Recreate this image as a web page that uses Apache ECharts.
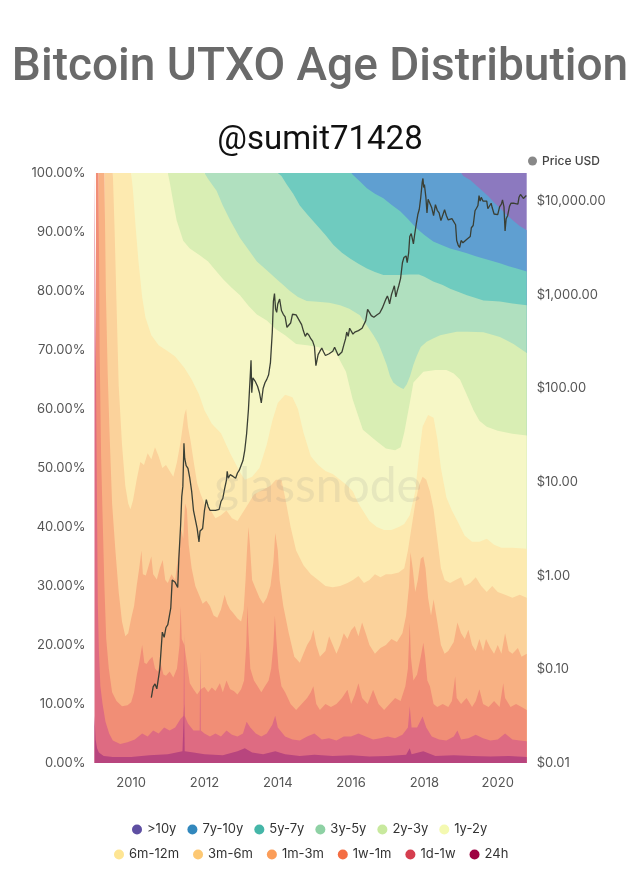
<!DOCTYPE html>
<html>
<head>
<meta charset="utf-8">
<title>Bitcoin UTXO Age Distribution</title>
<script src="https://cdn.jsdelivr.net/npm/echarts@6/dist/echarts.min.js"></script>
<style>
    html, body { margin: 0; padding: 0; background: #fff; }
    #chart { width: 640px; height: 889px; }
</style>
</head>
<body>
<div id="chart"></div>
<script>
// age bands, youngest (bottom) to oldest (top)
const bandNames = ['24h', '1d-1w', '1w-1m', '1m-3m', '3m-6m', '6m-12m', '1y-2y', '2y-3y', '3y-5y', '5y-7y', '7y-10y', '>10y'];
const legendRow1 = ['>10y', '7y-10y', '5y-7y', '3y-5y', '2y-3y', '1y-2y'];
const legendRow2 = ['6m-12m', '3m-6m', '1m-3m', '1w-1m', '1d-1w', '24h'];
const dotColors = ['#9e0142', '#d53e4f', '#f46d43', '#fb9d59', '#fdc873', '#fee593', '#f4f9b1', '#c8e99e', '#8ed1a4', '#45b6a8', '#3288bd', '#5e4fa2'];
const fillColors = ['#b8457e', '#de6b82', '#f18e76', '#f8b183', '#fbd29b', '#fdeab0', '#f6f7c6', '#d9eeb4', '#b0e0bf', '#6fcbbf', '#5f9fd1', '#8c79bf'];

// upper edge of each band, cumulative % of supply: [year, percent]
const top24h = [[2009.0, 8], [2009.03, 4], [2009.07, 2.5], [2009.12, 1.8], [2009.25, 1.2], [2009.5, 1], [2010.0, 1], [2010.5, 1.3], [2011.0, 1.5], [2011.4, 2], [2011.445, 10], [2011.46, 2], [2011.7, 1.8], [2012.0, 1.5], [2012.5, 1.3], [2012.9, 2], [2013.1, 2.5], [2013.3, 1.8], [2013.6, 1.5], [2013.93, 2], [2014.2, 1.5], [2014.6, 1.2], [2015.0, 1.4], [2015.5, 1.2], [2016.0, 1.3], [2016.5, 1.1], [2017.0, 1.2], [2017.5, 1.4], [2017.6, 2.5], [2017.65, 1.5], [2017.97, 2], [2018.3, 1.2], [2018.8, 1.3], [2019.3, 1.2], [2019.8, 1.1], [2020.3, 1.2], [2020.79, 1]];
const top1d1w = [[2009.0, 100], [2009.04, 100], [2009.06, 50], [2009.09, 27], [2009.12, 19], [2009.16, 13], [2009.22, 10], [2009.3, 7], [2009.4, 5], [2009.5, 3.8], [2009.7, 3.2], [2009.9, 3.5], [2010.1, 4], [2010.3, 5], [2010.45, 4.5], [2010.6, 5.5], [2010.75, 5], [2010.9, 6], [2011.05, 5.5], [2011.2, 6], [2011.35, 7.5], [2011.43, 8], [2011.445, 22], [2011.46, 8], [2011.55, 6.7], [2011.7, 5.5], [2011.87, 5.5], [2011.885, 19], [2011.9, 5.5], [2012.0, 5], [2012.15, 4.5], [2012.3, 5], [2012.45, 4.5], [2012.6, 5.5], [2012.75, 4.8], [2012.9, 4.5], [2013.05, 5], [2013.15, 7], [2013.25, 6], [2013.4, 5], [2013.55, 4.5], [2013.7, 5], [2013.85, 6.5], [2013.93, 8], [2014.0, 6], [2014.2, 4.5], [2014.4, 4], [2014.6, 3.8], [2014.8, 4.5], [2015.0, 5], [2015.2, 4], [2015.4, 4.2], [2015.6, 3.8], [2015.8, 4.5], [2016.0, 4.5], [2016.2, 5], [2016.4, 4.5], [2016.6, 4], [2016.8, 4.2], [2017.0, 4.5], [2017.2, 4.2], [2017.4, 4.8], [2017.55, 6], [2017.6, 9.6], [2017.65, 6], [2017.8, 6], [2017.95, 7.9], [2018.05, 6], [2018.2, 4.5], [2018.4, 4], [2018.6, 3.8], [2018.8, 4.5], [2018.9, 5.5], [2019.0, 4], [2019.2, 4.2], [2019.4, 4.8], [2019.6, 4.2], [2019.8, 3.8], [2020.0, 4], [2020.2, 5], [2020.4, 4], [2020.6, 3.8], [2020.79, 3.7]];
const top1w1m = [[2009.04, 100], [2009.11, 100], [2009.14, 70], [2009.18, 52], [2009.22, 42], [2009.27, 30], [2009.32, 21], [2009.39, 16], [2009.48, 12], [2009.6, 10.5], [2009.75, 9.6], [2009.9, 9.8], [2010.0, 10.3], [2010.08, 12], [2010.15, 14.8], [2010.22, 17], [2010.3, 20], [2010.36, 17], [2010.42, 16.8], [2010.5, 17.5], [2010.58, 18], [2010.65, 16], [2010.72, 15.5], [2010.8, 17], [2010.88, 15], [2010.95, 14.8], [2011.05, 15.5], [2011.15, 14.5], [2011.25, 16], [2011.32, 20], [2011.35, 26.6], [2011.38, 21], [2011.45, 20], [2011.52, 17], [2011.6, 13.5], [2011.7, 12.5], [2011.8, 11.6], [2011.9, 12.5], [2012.0, 12.9], [2012.1, 12], [2012.2, 12.8], [2012.3, 12.2], [2012.42, 13.5], [2012.5, 12], [2012.6, 14], [2012.7, 12.5], [2012.8, 12.2], [2012.9, 11.6], [2013.0, 12.5], [2013.08, 14], [2013.14, 20], [2013.17, 26.6], [2013.2, 22], [2013.25, 16], [2013.35, 14], [2013.45, 13], [2013.55, 12], [2013.65, 13], [2013.75, 14], [2013.82, 16], [2013.88, 20], [2013.92, 25], [2013.96, 21], [2014.02, 16], [2014.1, 13], [2014.2, 12], [2014.35, 10], [2014.5, 9], [2014.65, 10], [2014.8, 11], [2014.9, 12], [2014.97, 13], [2015.05, 10], [2015.15, 9], [2015.3, 10], [2015.45, 9.5], [2015.6, 10], [2015.75, 11], [2015.9, 12.4], [2016.0, 10], [2016.1, 11.5], [2016.2, 13.5], [2016.3, 11], [2016.45, 10], [2016.6, 12.4], [2016.75, 10], [2016.9, 9], [2017.05, 10], [2017.2, 11], [2017.35, 10.5], [2017.48, 13], [2017.55, 16], [2017.6, 23.8], [2017.63, 18], [2017.7, 14], [2017.8, 15], [2017.9, 18], [2017.97, 20.4], [2018.02, 18], [2018.08, 14], [2018.15, 13], [2018.25, 10], [2018.35, 9.5], [2018.5, 10], [2018.65, 9.5], [2018.75, 10.5], [2018.84, 14.7], [2018.88, 11], [2019.0, 10], [2019.15, 11], [2019.3, 9.5], [2019.4, 10.5], [2019.5, 12.5], [2019.6, 10], [2019.75, 9.5], [2019.9, 10.5], [2020.05, 9.5], [2020.15, 13.5], [2020.2, 11], [2020.35, 9.5], [2020.5, 10], [2020.65, 9.5], [2020.79, 9]];
const top1m3m = [[2009.11, 100], [2009.27, 100], [2009.31, 80], [2009.36, 66], [2009.41, 56], [2009.48, 44], [2009.57, 36], [2009.66, 29], [2009.75, 24], [2009.84, 21.5], [2009.92, 22], [2010.0, 24.5], [2010.08, 26.6], [2010.15, 30], [2010.22, 33], [2010.28, 36], [2010.32, 32], [2010.4, 31.8], [2010.48, 33.5], [2010.55, 35], [2010.6, 32], [2010.7, 31.1], [2010.78, 33], [2010.86, 34.4], [2010.93, 31], [2011.0, 30.5], [2011.1, 32], [2011.2, 31], [2011.3, 36], [2011.37, 39.6], [2011.42, 38], [2011.47, 44], [2011.52, 43], [2011.57, 37], [2011.65, 33], [2011.75, 30], [2011.85, 28.5], [2011.95, 27], [2012.05, 27.5], [2012.15, 26.6], [2012.25, 25], [2012.35, 24.6], [2012.45, 26], [2012.55, 28.5], [2012.62, 27], [2012.7, 26], [2012.8, 25.3], [2012.9, 24.5], [2013.0, 24], [2013.07, 26], [2013.12, 31], [2013.16, 36], [2013.2, 40], [2013.24, 37], [2013.3, 31], [2013.38, 29.8], [2013.5, 28], [2013.6, 27], [2013.7, 28], [2013.8, 30], [2013.88, 34], [2013.93, 39], [2014.0, 36], [2014.05, 31], [2014.15, 26.6], [2014.3, 22], [2014.45, 18], [2014.6, 17], [2014.7, 18.5], [2014.8, 20], [2014.9, 21], [2014.97, 22.6], [2015.05, 20], [2015.15, 18], [2015.3, 19], [2015.4, 21.5], [2015.5, 20], [2015.6, 18.5], [2015.7, 20], [2015.8, 22], [2015.9, 21], [2016.0, 22.5], [2016.1, 23.2], [2016.2, 21.5], [2016.3, 23.8], [2016.4, 22], [2016.5, 20], [2016.65, 18.5], [2016.8, 19.5], [2016.95, 20], [2017.1, 21], [2017.25, 20.5], [2017.4, 22], [2017.5, 25], [2017.58, 30], [2017.62, 35.7], [2017.68, 33], [2017.75, 29], [2017.82, 31], [2017.9, 34.6], [2017.97, 35], [2018.03, 33], [2018.1, 28], [2018.18, 25], [2018.25, 27.7], [2018.35, 24], [2018.45, 20], [2018.55, 18.5], [2018.65, 19], [2018.8, 20.5], [2018.9, 23.8], [2019.0, 22], [2019.1, 21], [2019.2, 22.6], [2019.3, 20], [2019.4, 19], [2019.5, 21], [2019.6, 19], [2019.68, 21], [2019.8, 19.5], [2019.9, 18.5], [2020.0, 20], [2020.1, 18.5], [2020.2, 22], [2020.3, 19], [2020.4, 18.5], [2020.55, 19.5], [2020.65, 18], [2020.79, 18.5]];
const top3m6m = [[2009.27, 100], [2009.5, 100], [2009.55, 90], [2009.6, 78], [2009.66, 64], [2009.75, 54], [2009.84, 47], [2009.92, 44], [2009.98, 43], [2010.05, 44.5], [2010.15, 48], [2010.25, 51], [2010.35, 50.5], [2010.45, 52.5], [2010.55, 51.5], [2010.65, 53.5], [2010.75, 52], [2010.85, 50], [2010.95, 50.5], [2011.05, 49.5], [2011.15, 48.5], [2011.25, 51], [2011.35, 54.5], [2011.45, 59], [2011.5, 60], [2011.55, 57], [2011.62, 54.6], [2011.72, 50.5], [2011.8, 47.4], [2011.9, 45.5], [2012.0, 44], [2012.15, 43], [2012.3, 41.5], [2012.45, 42], [2012.6, 42.8], [2012.75, 41.5], [2012.9, 41], [2013.05, 42.5], [2013.2, 44], [2013.35, 45.5], [2013.5, 46], [2013.65, 46.5], [2013.8, 47], [2013.95, 48], [2014.1, 48], [2014.2, 45], [2014.35, 40], [2014.5, 36], [2014.7, 33.5], [2014.9, 32], [2015.1, 31], [2015.3, 30], [2015.5, 29.8], [2015.7, 30], [2015.9, 30.5], [2016.05, 31], [2016.2, 31.7], [2016.35, 30.5], [2016.5, 31], [2016.65, 32], [2016.8, 31.5], [2016.95, 32], [2017.1, 32], [2017.3, 32.3], [2017.45, 33], [2017.55, 36], [2017.65, 40], [2017.75, 44], [2017.85, 47], [2017.95, 48.5], [2018.05, 48], [2018.15, 46], [2018.25, 43], [2018.35, 38], [2018.45, 33], [2018.55, 31], [2018.7, 30.5], [2018.85, 31], [2019.0, 31.5], [2019.1, 30], [2019.25, 30.5], [2019.4, 31.5], [2019.55, 30], [2019.7, 29], [2019.85, 30], [2020.0, 29], [2020.2, 28.5], [2020.4, 28], [2020.6, 28.5], [2020.79, 28]];
const top6m12m = [[2009.5, 100], [2010.0, 100], [2010.05, 97], [2010.12, 91], [2010.2, 85], [2010.3, 79], [2010.39, 75.5], [2010.55, 72.5], [2010.75, 70.8], [2011.0, 69.8], [2011.2, 68.9], [2011.45, 67], [2011.65, 65], [2011.85, 62.5], [2012.0, 59.8], [2012.2, 57.5], [2012.45, 55.9], [2012.7, 52.5], [2012.97, 49.3], [2013.1, 48], [2013.3, 48.5], [2013.5, 50], [2013.7, 54], [2013.85, 58], [2014.0, 61], [2014.2, 62.4], [2014.4, 62], [2014.55, 60], [2014.7, 56], [2014.9, 52], [2015.1, 50.5], [2015.3, 49.5], [2015.5, 49], [2015.7, 48], [2015.9, 47], [2016.05, 46], [2016.2, 44], [2016.35, 42.5], [2016.5, 41], [2016.7, 40], [2016.9, 39.5], [2017.1, 39.5], [2017.3, 40], [2017.45, 40.5], [2017.6, 42], [2017.75, 46], [2017.85, 52], [2017.95, 57], [2018.1, 59], [2018.25, 58.5], [2018.35, 55], [2018.45, 50], [2018.6, 45], [2018.75, 42.8], [2018.9, 41], [2019.1, 38.5], [2019.3, 37.5], [2019.5, 37.5], [2019.7, 38], [2019.9, 37], [2020.1, 36.5], [2020.4, 36.5], [2020.79, 36.3]];
const top1y2y = [[2010.0, 100], [2011.0, 100], [2011.05, 98.5], [2011.15, 95], [2011.24, 92], [2011.42, 88.5], [2011.6, 87.2], [2011.88, 86], [2012.1, 85], [2012.3, 83.5], [2012.51, 82], [2012.75, 80.5], [2012.97, 79.3], [2013.2, 77.5], [2013.43, 76], [2013.7, 75], [2013.95, 73.5], [2014.2, 72.5], [2014.5, 71], [2014.8, 70.8], [2015.1, 70.5], [2015.3, 70], [2015.59, 69.5], [2015.86, 66.3], [2016.04, 61.7], [2016.32, 56.5], [2016.68, 54.6], [2016.95, 53.3], [2017.2, 53], [2017.35, 53.5], [2017.45, 56], [2017.6, 61], [2017.7, 64.5], [2017.97, 66.3], [2018.3, 66.6], [2018.6, 66.6], [2018.8, 66], [2018.97, 65], [2019.15, 62.5], [2019.34, 59.8], [2019.5, 58], [2019.7, 57], [2020.0, 56.3], [2020.4, 55.8], [2020.79, 55.5]];
const top2y3y = [[2011.0, 100], [2012.0, 100], [2012.1, 99], [2012.33, 97], [2012.5, 94.5], [2012.7, 92], [2012.97, 89], [2013.2, 87], [2013.43, 85], [2013.7, 83.5], [2013.97, 82], [2014.15, 81], [2014.33, 80], [2014.55, 79], [2014.79, 78.3], [2015.0, 78.2], [2015.4, 78], [2015.7, 77.6], [2015.95, 77], [2016.24, 75.9], [2016.45, 74], [2016.61, 72.5], [2016.75, 71], [2016.88, 69], [2016.97, 67.5], [2017.06, 65.6], [2017.15, 64.5], [2017.25, 64], [2017.35, 63.6], [2017.43, 63.4], [2017.52, 64.2], [2017.61, 65.6], [2017.7, 67.5], [2017.79, 69], [2017.9, 70.5], [2018.06, 71.4], [2018.25, 72], [2018.43, 72.5], [2018.65, 72.8], [2018.88, 73.1], [2019.2, 73.1], [2019.61, 73], [2019.85, 72.6], [2020.06, 72.2], [2020.25, 71.6], [2020.43, 71], [2020.6, 70.3], [2020.79, 69.5]];
const top3y5y = [[2012.0, 100], [2014.0, 100], [2014.1, 99.5], [2014.25, 98], [2014.42, 96.5], [2014.6, 94.5], [2014.8, 93], [2015.06, 91.2], [2015.3, 89.5], [2015.52, 87.8], [2015.75, 86.5], [2015.97, 85.5], [2016.2, 84.6], [2016.43, 83.8], [2016.65, 83.2], [2016.88, 82.7], [2017.1, 82.7], [2017.34, 82.7], [2017.6, 82.8], [2017.85, 82.8], [2018.0, 82.4], [2018.24, 81.6], [2018.5, 81], [2018.7, 80.4], [2018.95, 79.8], [2019.16, 79.3], [2019.4, 78.8], [2019.61, 78.4], [2019.85, 78.3], [2020.06, 78.2], [2020.4, 77.9], [2020.79, 77.6]];
const top5y7y = [[2014.0, 100], [2016.0, 100], [2016.06, 99.6], [2016.25, 98.5], [2016.43, 97.4], [2016.65, 96.5], [2016.88, 95.7], [2017.1, 94.6], [2017.34, 93.5], [2017.55, 92.2], [2017.79, 90.6], [2018.0, 89.5], [2018.24, 88.4], [2018.5, 87.7], [2018.7, 87.2], [2018.95, 86.8], [2019.16, 86.4], [2019.4, 85.9], [2019.61, 85.5], [2019.85, 85.1], [2020.06, 84.7], [2020.3, 84.2], [2020.52, 83.8], [2020.79, 83.3]];
const top7y10y = [[2016.0, 100], [2019.0, 100], [2019.06, 99.5], [2019.25, 98.8], [2019.5, 97.4], [2019.75, 96], [2019.9, 95], [2020.1, 93.8], [2020.25, 92.9], [2020.45, 91.8], [2020.6, 91], [2020.79, 90.3]];
const top10y = [[2019.0, 100], [2020.79, 100]];

const bandTops = [top24h, top1d1w, top1w1m, top1m3m, top3m6m, top6m12m, top1y2y, top2y3y, top3y5y, top5y7y, top7y10y, top10y];

// BTC price in USD: [year, price]
const priceUsd = [[2010.55, 0.05], [2010.6, 0.065], [2010.65, 0.07], [2010.7, 0.062], [2010.78, 0.1], [2010.85, 0.25], [2010.9, 0.22], [2010.95, 0.28], [2011.0, 0.3], [2011.08, 0.45], [2011.12, 0.9], [2011.2, 0.85], [2011.27, 0.75], [2011.3, 1.5], [2011.35, 3.5], [2011.38, 7], [2011.41, 9], [2011.43, 18], [2011.44, 26], [2011.46, 18], [2011.5, 15], [2011.55, 14], [2011.6, 11], [2011.65, 8], [2011.7, 5], [2011.75, 4], [2011.8, 3.2], [2011.85, 2.3], [2011.88, 3], [2011.95, 3.2], [2012.0, 5], [2012.05, 6.5], [2012.1, 5.5], [2012.15, 5], [2012.2, 4.8], [2012.3, 5], [2012.4, 5.1], [2012.45, 6.2], [2012.5, 6.7], [2012.55, 8.5], [2012.6, 10.5], [2012.62, 13], [2012.65, 11], [2012.7, 12], [2012.78, 11.5], [2012.85, 11], [2012.9, 12.5], [2012.95, 13.4], [2013.0, 13.5], [2013.05, 17], [2013.1, 22], [2013.15, 33], [2013.2, 60], [2013.25, 140], [2013.27, 200], [2013.29, 90], [2013.32, 130], [2013.38, 120], [2013.45, 105], [2013.5, 90], [2013.55, 70], [2013.6, 100], [2013.65, 115], [2013.7, 125], [2013.75, 140], [2013.8, 190], [2013.85, 400], [2013.88, 850], [2013.91, 1030], [2013.94, 700], [2013.97, 650], [2014.0, 800], [2014.05, 900], [2014.1, 680], [2014.15, 620], [2014.2, 580], [2014.25, 450], [2014.3, 460], [2014.35, 500], [2014.4, 620], [2014.45, 640], [2014.5, 610], [2014.55, 590], [2014.6, 520], [2014.65, 480], [2014.7, 410], [2014.75, 360], [2014.8, 390], [2014.85, 370], [2014.9, 340], [2014.95, 320], [2015.0, 280], [2015.04, 175], [2015.1, 230], [2015.15, 250], [2015.2, 270], [2015.25, 245], [2015.3, 225], [2015.4, 235], [2015.45, 225], [2015.5, 250], [2015.55, 275], [2015.6, 285], [2015.65, 225], [2015.7, 235], [2015.75, 245], [2015.8, 290], [2015.85, 340], [2015.88, 400], [2015.92, 360], [2015.96, 440], [2016.0, 430], [2016.05, 380], [2016.1, 400], [2016.15, 420], [2016.2, 415], [2016.3, 440], [2016.35, 450], [2016.4, 530], [2016.45, 700], [2016.5, 650], [2016.55, 600], [2016.62, 575], [2016.7, 610], [2016.78, 640], [2016.85, 720], [2016.9, 750], [2016.95, 900], [2016.99, 970], [2017.02, 900], [2017.05, 800], [2017.1, 1000], [2017.15, 1150], [2017.18, 1250], [2017.22, 950], [2017.26, 1100], [2017.3, 1250], [2017.35, 1500], [2017.4, 2200], [2017.44, 2500], [2017.5, 2600], [2017.53, 2200], [2017.57, 2800], [2017.6, 4200], [2017.64, 4500], [2017.7, 3500], [2017.73, 4300], [2017.78, 5800], [2017.82, 7200], [2017.86, 8200], [2017.9, 11000], [2017.94, 16000], [2017.96, 17500], [2017.98, 14000], [2018.0, 15000], [2018.04, 11000], [2018.07, 7500], [2018.1, 10500], [2018.15, 11000], [2018.2, 8500], [2018.25, 7000], [2018.3, 9200], [2018.35, 8000], [2018.4, 7500], [2018.45, 6200], [2018.5, 6500], [2018.55, 8100], [2018.6, 7000], [2018.65, 6300], [2018.7, 6600], [2018.75, 6500], [2018.8, 6400], [2018.85, 5600], [2018.88, 3800], [2018.92, 3400], [2018.96, 3200], [2019.0, 3800], [2019.05, 3600], [2019.1, 3500], [2019.15, 3900], [2019.2, 4000], [2019.25, 4200], [2019.28, 5200], [2019.33, 5500], [2019.38, 7900], [2019.42, 8400], [2019.46, 9000], [2019.49, 11500], [2019.52, 10000], [2019.55, 11000], [2019.6, 10000], [2019.65, 10400], [2019.7, 10000], [2019.73, 8300], [2019.78, 8200], [2019.82, 9500], [2019.85, 8500], [2019.9, 7300], [2019.95, 7200], [2020.0, 7200], [2020.05, 8700], [2020.1, 9300], [2020.13, 10300], [2020.17, 8700], [2020.2, 4800], [2020.23, 6500], [2020.27, 7000], [2020.32, 8800], [2020.36, 9500], [2020.4, 9700], [2020.45, 9500], [2020.5, 9200], [2020.55, 9300], [2020.58, 11000], [2020.62, 11800], [2020.66, 11500], [2020.7, 10700], [2020.74, 10500], [2020.78, 11500]];

const labelFont = 'Inter, "Noto Sans", sans-serif';

const chart = echarts.init(document.getElementById('chart'), null, { renderer: 'canvas' });

// oldest band first so that each younger band is painted over it
const bandSeries = bandNames.map((name, i) => ({
    name: name,
    type: 'line',
    data: bandTops[i],
    color: dotColors[i],
    showSymbol: false,
    silent: true,
    lineStyle: { width: 0 },
    areaStyle: { color: fillColors[i], opacity: 1 },
    emphasis: { disabled: true }
})).reverse();

const legendItem = name => ({ name: name, itemStyle: { color: dotColors[bandNames.indexOf(name)] } });

chart.setOption({
    animation: false,
    backgroundColor: '#fff',
    title: [
        {
            text: 'Bitcoin UTXO Age Distribution',
            left: 'center',
            top: 40,
            textStyle: { fontFamily: 'Roboto', fontSize: 46, fontWeight: 500, color: '#6a6a6a' }
        },
        {
            text: '@sumit71428',
            left: 'center',
            top: 119,
            textStyle: { fontFamily: 'Roboto', fontSize: 33, fontWeight: 400, color: '#111' }
        }
    ],
    legend: [
        {
            data: legendRow1.map(legendItem),
            left: 127,
            top: 818,
            icon: 'circle',
            itemWidth: 10,
            itemHeight: 10,
            itemGap: 11,
            selectedMode: false,
            textStyle: { fontFamily: labelFont, fontSize: 13, color: '#333' }
        },
        {
            data: legendRow2.map(legendItem),
            left: 109,
            top: 843,
            icon: 'circle',
            itemWidth: 10,
            itemHeight: 10,
            itemGap: 14,
            selectedMode: false,
            textStyle: { fontFamily: labelFont, fontSize: 13, color: '#333' }
        },
        {
            data: [{ name: 'Price USD', itemStyle: { color: '#888' } }],
            left: 523,
            top: 150,
            icon: 'circle',
            itemWidth: 9,
            itemHeight: 9,
            itemGap: 5,
            selectedMode: false,
            textStyle: { fontFamily: labelFont, fontSize: 12, fontWeight: 500, color: '#444' }
        }
    ],
    grid: { left: 94.5, right: 113.3, top: 173, bottom: 126 },
    xAxis: {
        type: 'value',
        min: 2009,
        max: 2020.79,
        interval: 1,
        axisLine: { show: false },
        axisTick: { show: false },
        splitLine: { show: false },
        axisLabel: {
            margin: 14,
            color: '#555',
            fontSize: 13,
            fontFamily: labelFont,
            formatter: v => (Math.abs(v - Math.round(v)) < 1e-6 && Math.round(v) % 2 === 0) ? String(Math.round(v)) : ''
        }
    },
    yAxis: [
        {
            type: 'value',
            min: 0,
            max: 100,
            interval: 10,
            position: 'left',
            axisLine: { show: false },
            axisTick: { show: false },
            splitLine: { show: false },
            axisLabel: {
                margin: 9,
                color: '#555',
                fontSize: 13,
                fontFamily: labelFont,
                formatter: v => v.toFixed(2) + '%'
            }
        },
        {
            type: 'log',
            logBase: 10,
            min: 0.01,
            max: 20000,
            splitNumber: 6,
            position: 'right',
            axisLine: { show: false },
            axisTick: { show: false },
            splitLine: { show: false },
            axisLabel: {
                margin: 10,
                color: '#555',
                fontSize: 13,
                fontFamily: labelFont,
                showMaxLabel: false,
                formatter: v => '$' + Number(v.toPrecision(6)).toLocaleString('en-US', { minimumFractionDigits: 2, maximumFractionDigits: 2 })
            }
        }
    ],
    graphic: [
        {
            type: 'text',
            left: 214,
            top: 463,
            z: 100,
            silent: true,
            style: { text: 'glassnode', font: '48px Lato', fill: 'rgba(140,140,140,0.15)' }
        }
    ],
    series: bandSeries.concat([{
        name: 'Price USD',
        type: 'line',
        yAxisIndex: 1,
        data: priceUsd,
        showSymbol: false,
        silent: true,
        z: 5,
        lineStyle: { color: '#3a3f34', width: 1.3 },
        emphasis: { disabled: true }
    }])
});
</script>
</body>
</html>
